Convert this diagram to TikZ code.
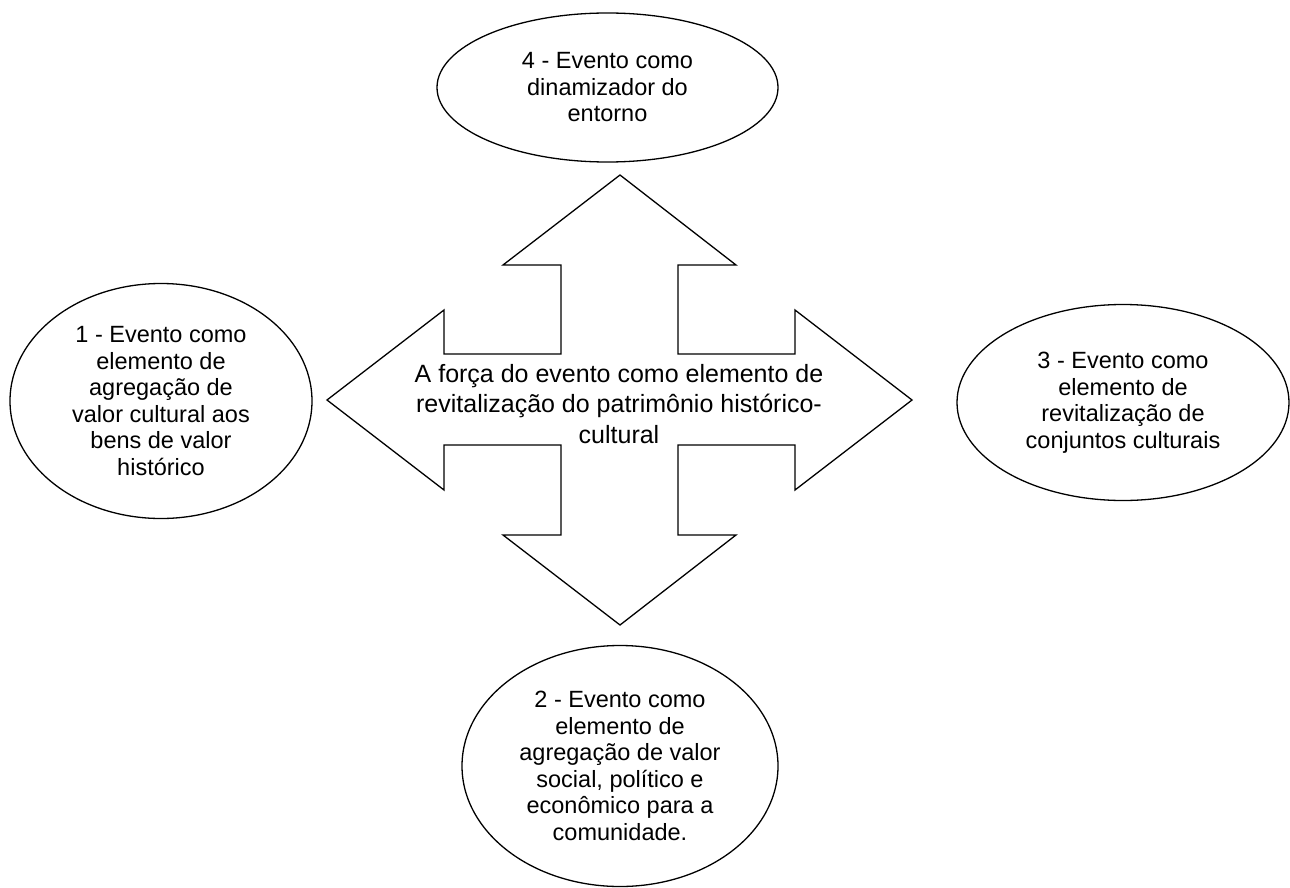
\documentclass[tikz,border=0pt]{standalone}
\usepackage{fontspec}
\setmainfont{Liberation Sans}
\usetikzlibrary{shapes.geometric}
\begin{document}
\begin{tikzpicture}[x=1pt,y=-1pt,
  outline/.style={draw=black,line width=1.3pt,line join=miter},
  bubble/.style={outline,ellipse,inner sep=0pt,align=center,
    font=\fontsize{23.5}{26.5}\selectfont},
  centertext/.style={align=center,inner sep=0pt,font=\fontsize{25}{30.5}\selectfont}]
\useasboundingbox (0,0) rectangle (1290,888);
% cross-shaped four-way arrow
\draw[outline,fill=white] (620,175) -- (736,265) -- (678,265) -- (678,354) -- (795,354) -- (795,310)
  -- (912,400) -- (795,490) -- (795,445) -- (678,445) -- (678,535) -- (736,535)
  -- (620,625) -- (503,535) -- (561,535) -- (561,445) -- (444,445) -- (444,490)
  -- (327,400) -- (444,310) -- (444,354) -- (561,354) -- (561,265) -- (503,265) -- cycle;
\node[centertext] (force) at (619,404) {A força do evento como elemento de\\revitalização do patrimônio histórico-\\cultural};
\node[bubble,minimum width=341pt,minimum height=149pt] (e4) at (607.5,87.5)
  {4 - Evento como\\dinamizador do\\entorno};
\node[bubble,minimum width=302pt,minimum height=235pt] (e1) at (161,401)
  {1 - Evento como\\elemento de\\agregação de\\valor cultural aos\\bens de valor\\histórico};
\node[bubble,minimum width=332pt,minimum height=196pt] (e3) at (1123,402.5)
  {3 - Evento como\\elemento de\\revitalização de\\conjuntos culturais};
\node[bubble,minimum width=316pt,minimum height=241pt] (e2) at (620,766)
  {2 - Evento como\\elemento de\\agregação de valor\\social, político e\\econômico para a\\comunidade.};
\end{tikzpicture}
\end{document}
